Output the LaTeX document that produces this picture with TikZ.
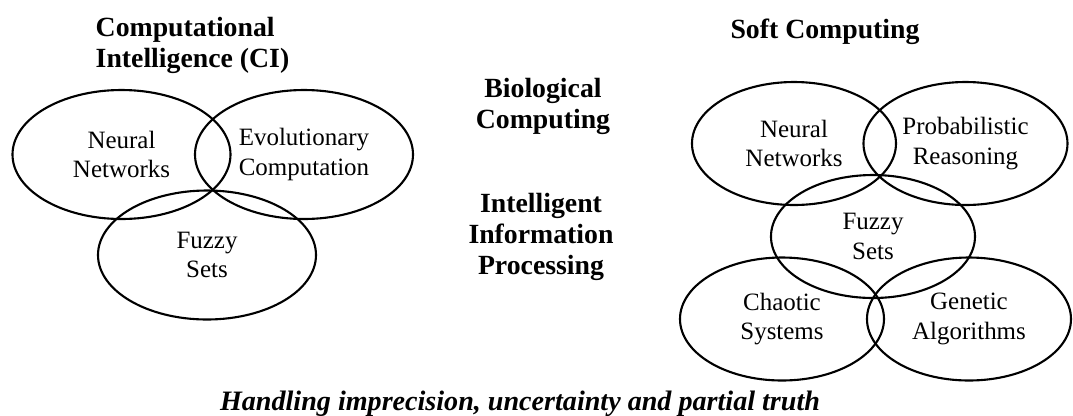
\documentclass[tikz,border=0pt]{standalone}
\usepackage{fontspec}
\setmainfont{Liberation Serif}
\usetikzlibrary{shapes.geometric}
\begin{document}
\begin{tikzpicture}[venn/.style={ellipse,draw,line width=0.6pt,inner sep=0pt,align=center,font=\fontsize{7.1}{8.4}\selectfont,
    execute at begin node={\rule{0pt}{7.4pt}}},
  bigset/.style={venn,minimum width=2.18cm,minimum height=1.29cm},
  smallset/.style={venn,minimum width=2.04cm,minimum height=1.23cm},
  head/.style={font=\fontsize{7.9}{8.8}\selectfont\bfseries,align=center,inner sep=0pt}]
\useasboundingbox (0,0) rectangle (10.73,-4.15);
% computational intelligence
\node[head,align=left,anchor=west] (ci) at (0.95,-0.455) {Computational\\Intelligence (CI)};
\node[bigset] (cinn) at (1.215,-1.545) {Neural\\Networks};
\node[bigset] (ciec) at (3.04,-1.545) {Evolutionary\\Computation};
\node[bigset] (cifs) at (2.07,-2.55) {Fuzzy\\Sets};
% middle
\node[head] (bio) at (5.43,-1.06) {Biological\\Computing};
\node[head] (iip) at (5.41,-2.37) {Intelligent\\Information\\Processing};
% soft computing
\node[head] (sc) at (8.25,-0.32) {Soft Computing};
\node[smallset] (scnn) at (7.94,-1.435) {Neural\\Networks};
\node[smallset] (scpr) at (9.655,-1.435) {Probabilistic\\Reasoning};
\node[smallset] (scfs) at (8.73,-2.365) {Fuzzy\\Sets};
\node[smallset] (sccs) at (7.82,-3.19) {Chaotic\\Systems};
\node[smallset] (scga) at (9.69,-3.19) {Genetic\\Algorithms};
\node[font=\fontsize{8}{9}\selectfont\bfseries\itshape,inner sep=0pt] (hint) at (5.2,-4.04) {Handling imprecision, uncertainty and partial truth};
\end{tikzpicture}
\end{document}
